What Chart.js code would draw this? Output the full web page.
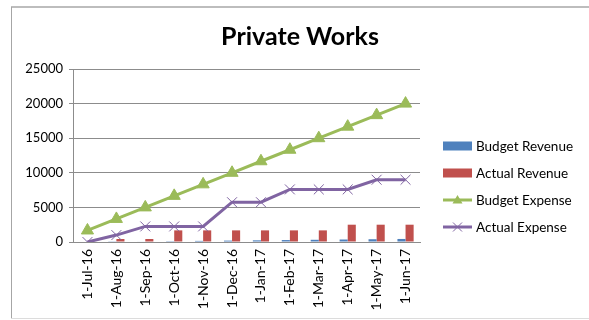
<!DOCTYPE html>
<html>
<head>
<meta charset="utf-8">
<script src="https://cdn.jsdelivr.net/npm/chart.js@4/dist/chart.umd.min.js"></script>
<style>
  html, body { margin: 0; padding: 0; background: #ffffff; }
  #wrap { width: 589px; height: 320px; position: relative; }
</style>
</head>
<body>
<div id="wrap"><canvas id="c" width="589" height="320"></canvas></div>
<script>
// Monthly figures for the Private Works account
const months = ['1-Jul-16', '1-Aug-16', '1-Sep-16', '1-Oct-16', '1-Nov-16', '1-Dec-16',
                '1-Jan-17', '1-Feb-17', '1-Mar-17', '1-Apr-17', '1-May-17', '1-Jun-17'];
const budgetRevenue = [0, 40, 80, 120, 160, 200, 240, 280, 320, 360, 400, 440];
const actualRevenue = [0, 430, 430, 1680, 1680, 1680, 1680, 1680, 1680, 2500, 2500, 2500];
const budgetExpense = [1667, 3333, 5000, 6667, 8333, 10000, 11667, 13333, 15000, 16667, 18333, 20000];
const actualExpense = [0, 1000, 2250, 2250, 2250, 5750, 5750, 7600, 7600, 7600, 9000, 9000];
const yTicks = [0, 5000, 10000, 15000, 20000, 25000];

const chartTitle = 'Private Works';
const FONT = 'Lato, "Open Sans", sans-serif';

// Outer frame and heading
const framePlugin = {
  id: 'frame',
  beforeDraw(chart) {
    const ctx = chart.ctx;
    ctx.save();
    ctx.fillStyle = '#ffffff';
    ctx.fillRect(0, 0, chart.width, chart.height);
    ctx.strokeStyle = '#bdbdbd';
    ctx.lineWidth = 2;
    ctx.beginPath(); ctx.moveTo(11, 7); ctx.lineTo(chart.width, 7); ctx.stroke();
    ctx.strokeStyle = '#a6a6a6';
    ctx.lineWidth = 1;
    ctx.beginPath(); ctx.moveTo(11.5, 7); ctx.lineTo(11.5, 319); ctx.stroke();
    ctx.strokeStyle = '#dcdcdc';
    ctx.beginPath(); ctx.moveTo(11, 318.5); ctx.lineTo(chart.width, 318.5); ctx.stroke();
    ctx.restore();
  },
  afterDraw(chart) {
    const ctx = chart.ctx;
    ctx.save();
    ctx.fillStyle = '#000000';
    ctx.font = 'bold 25px ' + FONT;
    ctx.textAlign = 'center';
    ctx.textBaseline = 'middle';
    ctx.fillText(chartTitle, 300, 37);
    ctx.restore();
  }
};

// Side legend: swatches for bars, line-with-marker for lines
const sideLegend = {
  id: 'sideLegend',
  afterDraw(chart) {
    const ctx = chart.ctx;
    const x0 = 443, w = 29, textX = 476;
    const rows = [146, 173, 200, 227];
    ctx.save();
    ctx.font = '13.5px ' + FONT;
    ctx.textBaseline = 'middle';
    ctx.textAlign = 'left';
    chart.data.datasets.forEach((ds, i) => {
      const y = rows[i];
      if (ds.type === 'bar') {
        ctx.fillStyle = ds.backgroundColor;
        ctx.fillRect(x0, y - 4.5, w, 9);
      } else {
        ctx.strokeStyle = ds.borderColor;
        ctx.lineWidth = 3;
        ctx.beginPath(); ctx.moveTo(x0, y); ctx.lineTo(x0 + w, y); ctx.stroke();
        const cx = x0 + w / 2;
        if (ds.pointStyle === 'triangle') {
          ctx.fillStyle = ds.pointBackgroundColor;
          ctx.beginPath();
          ctx.moveTo(cx, y - 5); ctx.lineTo(cx + 5, y + 3.5); ctx.lineTo(cx - 5, y + 3.5);
          ctx.closePath(); ctx.fill();
        } else {
          ctx.lineWidth = 1;
          ctx.beginPath();
          ctx.moveTo(cx - 4.5, y - 4.5); ctx.lineTo(cx + 4.5, y + 4.5);
          ctx.moveTo(cx + 4.5, y - 4.5); ctx.lineTo(cx - 4.5, y + 4.5);
          ctx.stroke();
        }
      }
      ctx.fillStyle = '#000000';
      ctx.fillText(ds.label, textX, y + 0.5);
    });
    ctx.restore();
  }
};

new Chart(document.getElementById('c'), {
  data: {
    labels: months,
    datasets: [
      { type: 'bar', label: 'Budget Revenue', data: budgetRevenue,
        backgroundColor: '#4F81BD', order: 2,
        categoryPercentage: 0.56, barPercentage: 1.0 },
      { type: 'bar', label: 'Actual Revenue', data: actualRevenue,
        backgroundColor: '#C0504D', order: 2,
        categoryPercentage: 0.56, barPercentage: 1.0 },
      { type: 'line', label: 'Budget Expense', data: budgetExpense,
        borderColor: '#9BBB59', backgroundColor: '#9BBB59', borderWidth: 3,
        pointStyle: 'triangle', pointRadius: 7, pointBackgroundColor: '#9BBB59',
        pointBorderColor: '#9BBB59', pointBorderWidth: 1, tension: 0, order: 1 },
      { type: 'line', label: 'Actual Expense', data: actualExpense,
        borderColor: '#8064A2', backgroundColor: '#8064A2', borderWidth: 3,
        pointStyle: 'crossRot', pointRadius: 7, pointBorderColor: '#8064A2',
        pointBorderWidth: 1, tension: 0, order: 0 }
    ]
  },
  options: {
    responsive: false,
    animation: false,
    devicePixelRatio: 1,
    layout: { padding: { top: 69, right: 169, bottom: 0, left: 0 } },
    plugins: {
      legend: { display: false },
      title: { display: false },
      tooltip: { enabled: false }
    },
    scales: {
      x: {
        offset: true,
        grid: { display: false, drawTicks: false },
        border: { display: true, color: '#8c8c8c', width: 1 },
        ticks: {
          color: '#000000', font: { family: FONT, size: 14 },
          maxRotation: 90, minRotation: 90, autoSkip: false, padding: 7
        },
        afterFit(scale) { scale.height = 78; }
      },
      y: {
        min: 0, max: 25000,
        afterBuildTicks(scale) { scale.ticks = yTicks.map(v => ({ value: v })); },
        grid: { color: '#8c8c8c', lineWidth: 1, tickLength: 4, drawTicks: true },
        border: { display: true, color: '#8c8c8c', width: 1 },
        ticks: {
          color: '#000000', font: { family: FONT, size: 13 }, padding: 6,
          callback: (v) => String(v)
        },
        afterFit(scale) { scale.width = 73; }
      }
    }
  },
  plugins: [framePlugin, sideLegend]
});
</script>
</body>
</html>
